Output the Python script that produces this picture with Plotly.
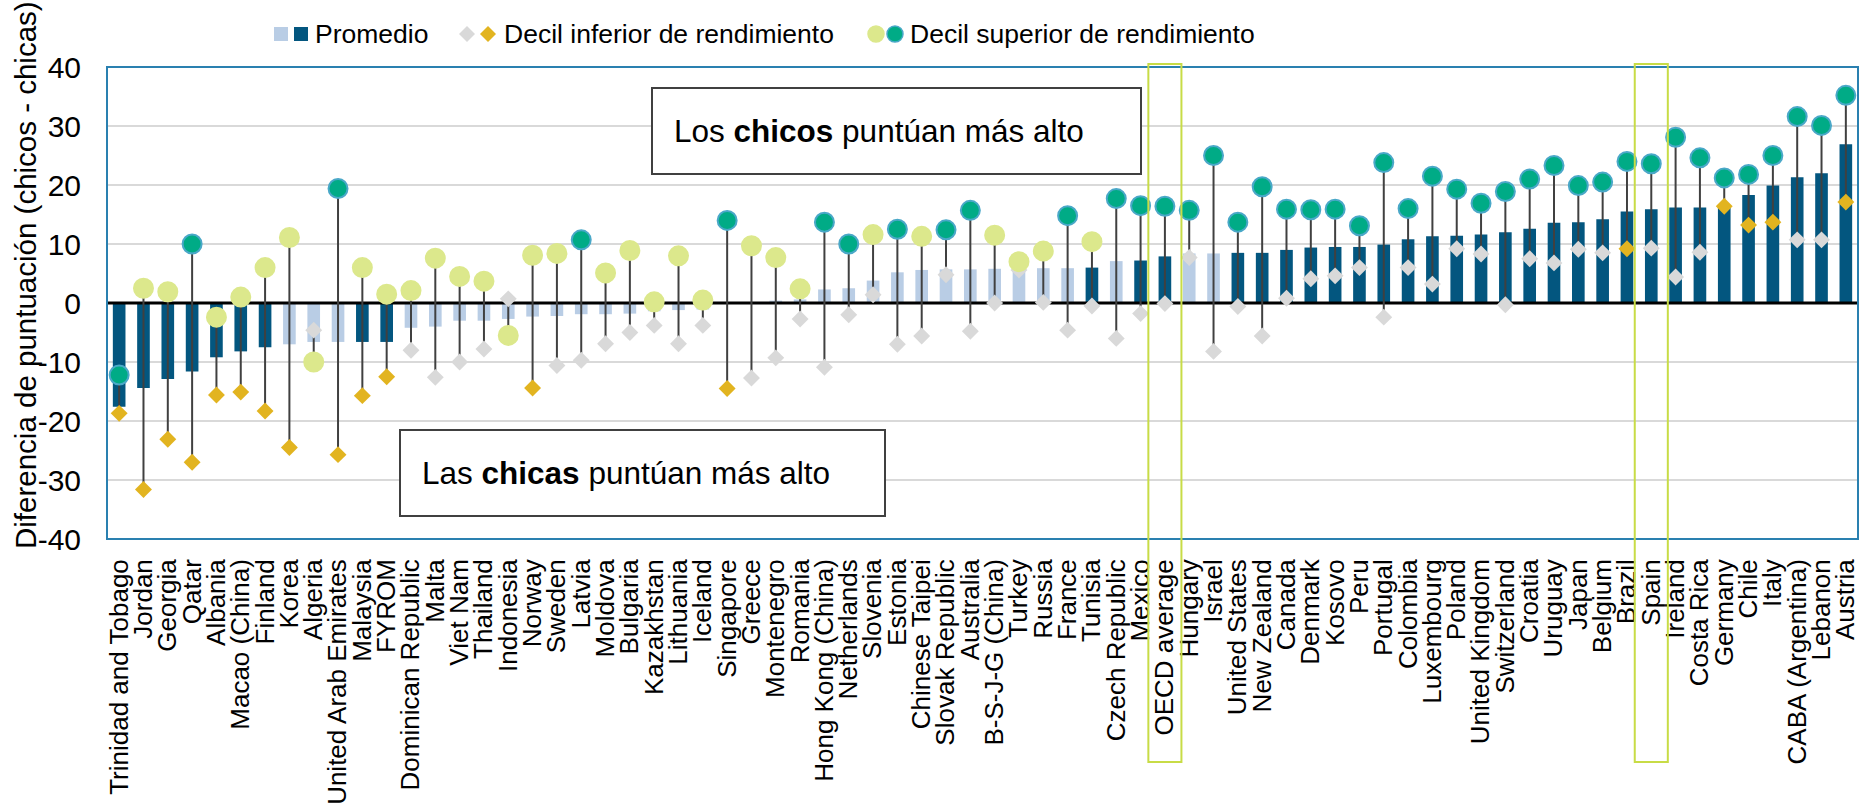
import plotly.graph_objects as go

countries = [
    "Trinidad and Tobago", "Jordan", "Georgia", "Qatar", "Albania", "Macao (China)", "Finland", "Korea",
    "Algeria", "United Arab Emirates", "Malaysia", "FYROM", "Dominican Republic", "Malta", "Viet Nam",
    "Thailand", "Indonesia", "Norway", "Sweden", "Latvia", "Moldova", "Bulgaria", "Kazakhstan", "Lithuania",
    "Iceland", "Singapore", "Greece", "Montenegro", "Romania", "Hong Kong (China)", "Netherlands", "Slovenia",
    "Estonia", "Chinese Taipei", "Slovak Republic", "Australia", "B-S-J-G (China)", "Turkey", "Russia",
    "France", "Tunisia", "Czech Republic", "Mexico", "OECD average", "Hungary", "Israel", "United States",
    "New Zealand", "Canada", "Denmark", "Kosovo", "Peru", "Portugal", "Colombia", "Luxembourg", "Poland",
    "United Kingdom", "Switzerland", "Croatia", "Uruguay", "Japan", "Belgium", "Brazil", "Spain", "Ireland",
    "Costa Rica", "Germany", "Chile", "Italy", "CABA (Argentina)", "Lebanon", "Austria",
]

# Mean difference (boys - girls)
mean_diff = [
    -17.6, -14.4, -12.9, -11.6, -9.2, -8.2, -7.5, -7.0, -6.6, -6.6, -6.6, -6.6, -4.2, -4.0, -3.0,
    -3.0, -2.7, -2.3, -2.2, -1.9, -1.9, -1.8, -1.4, -1.2, -1.1, -0.1, 0.0, 0.4, 0.6, 2.3, 2.5, 3.8,
    5.2, 5.6, 5.7, 5.7, 5.8, 5.8, 5.9, 5.9, 6.0, 7.1, 7.2, 7.9, 8.4, 8.4, 8.5, 8.5, 9.0, 9.4, 9.5,
    9.5, 9.9, 10.8, 11.3, 11.4, 11.6, 12.0, 12.6, 13.6, 13.7, 14.2, 15.5, 15.9, 16.2, 16.2, 16.6,
    18.3, 19.9, 21.3, 22.0, 26.9,
]
mean_sig = [
    1, 1, 1, 1, 1, 1, 1, 0, 0, 0, 1, 1, 0, 0, 0, 0, 0, 0, 0, 0, 0, 0, 0, 0, 0, 0, 0, 0, 0, 0, 0, 0,
    0, 0, 0, 0, 0, 0, 0, 0, 1, 0, 1, 1, 0, 0, 1, 1, 1, 1, 1, 1, 1, 1, 1, 1, 1, 1, 1, 1, 1, 1, 1, 1,
    1, 1, 1, 1, 1, 1, 1, 1,
]

# Bottom decile difference
low_decile = [
    -18.7, -31.6, -23.1, -27.0, -15.6, -15.1, -18.3, -24.5, -4.6, -25.7, -15.7, -12.5, -8.0, -12.6,
    -10.0, -7.8, 0.7, -14.4, -10.6, -9.7, -6.9, -5.0, -3.8, -6.9, -3.8, -14.5, -12.7, -9.3, -2.7,
    -10.9, -2.0, 1.4, -7.0, -5.6, 4.8, -4.8, 0.0, 5.6, 0.1, -4.6, -0.5, -6.0, -1.8, -0.1, 7.7, -8.2,
    -0.6, -5.6, 0.8, 4.1, 4.6, 6.0, -2.4, 6.0, 3.2, 9.2, 8.3, -0.3, 7.5, 6.8, 9.1, 8.5, 9.2, 9.3,
    4.4, 8.6, 16.4, 13.2, 13.7, 10.7, 10.7, 17.1,
]
low_sig = [
    1, 1, 1, 1, 1, 1, 1, 1, 0, 1, 1, 1, 0, 0, 0, 0, 0, 1, 0, 0, 0, 0, 0, 0, 0, 1, 0, 0, 0, 0, 0, 0,
    0, 0, 0, 0, 0, 0, 0, 0, 0, 0, 0, 0, 0, 0, 0, 0, 0, 0, 0, 0, 0, 0, 0, 0, 0, 0, 0, 0, 0, 0, 1, 0,
    0, 0, 1, 1, 1, 0, 0, 1,
]

# Top decile difference
high_decile = [
    -12.2, 2.5, 1.9, 10.0, -2.4, 1.0, 6.0, 11.1, -10.0, 19.4, 6.0, 1.5, 2.1, 7.6, 4.5, 3.7, -5.5,
    8.1, 8.4, 10.7, 5.1, 8.9, 0.2, 8.0, 0.5, 14.0, 9.7, 7.7, 2.4, 13.7, 10.0, 11.6, 12.5, 11.3, 12.4,
    15.7, 11.5, 7.0, 8.8, 14.8, 10.4, 17.7, 16.5, 16.4, 15.7, 25.0, 13.7, 19.7, 15.9, 15.8, 15.9,
    13.1, 23.8, 16.0, 21.5, 19.3, 16.9, 18.9, 21.0, 23.3, 19.9, 20.5, 24.0, 23.6, 28.1, 24.6, 21.2,
    21.8, 25.0, 31.6, 30.1, 35.2,
]
high_sig = [
    1, 0, 0, 1, 0, 0, 0, 0, 0, 1, 0, 0, 0, 0, 0, 0, 0, 0, 0, 1, 0, 0, 0, 0, 0, 1, 0, 0, 0, 1, 1, 0,
    1, 0, 1, 1, 0, 0, 0, 1, 0, 1, 1, 1, 1, 1, 1, 1, 1, 1, 1, 1, 1, 1, 1, 1, 1, 1, 1, 1, 1, 1, 1, 1,
    1, 1, 1, 1, 1, 1, 1, 1,
]

highlighted = ["OECD average", "Spain"]

y_tick_vals = [-40, -30, -20, -10, 0, 10, 20, 30, 40]
y_tick_text = ["-40", "-30", "-20", "-10", "0", "10", "20", "30", "40"]

legend_labels = ["Promedio", "Decil inferior de rendimiento", "Decil superior de rendimiento"]
note_boys = "Los <b>chicos</b> puntúan más alto"
note_girls = "Las <b>chicas</b> puntúan más alto"
y_title = "Diferencia de puntuación (chicos - chicas)"

# ---- styling ----
FONT = "Liberation Sans, Arial, sans-serif"
BAR_DARK, BAR_LIGHT = "#03567f", "#b9cde5"
DIA_GOLD, DIA_GREY = "#e2b420", "#d9d9d9"
CIR_DARK, CIR_LIGHT = "#00ab86", "#dce88c"
CIR_EDGE = "#4aa8c8"
STEM = "#404040"
BORDER = "#2a80b0"
HILITE = "#c8dc46"

W, H = 1862, 809
ML, MR, MT, MB = 107, 4, 67, 270
PW, PH = W - ML - MR, H - MT - MB


def px(xp):
    return (xp - ML) / PW


def py(yp):
    return (H - MB - yp) / PH


x_idx = list(range(len(countries)))

fig = go.Figure()

fig.add_trace(go.Bar(
    x=x_idx, y=mean_diff, width=0.52,
    marker=dict(color=[BAR_DARK if s else BAR_LIGHT for s in mean_sig], line=dict(width=0)),
    hoverinfo="skip", showlegend=False,
))

# zero reference line
fig.add_trace(go.Scatter(
    x=[x_idx[0] - 0.5, x_idx[-1] + 0.5], y=[0, 0], mode="lines",
    line=dict(color="black", width=3), hoverinfo="skip", showlegend=False,
))

stem_x, stem_y = [], []
for i, lo, hi in zip(x_idx, low_decile, high_decile):
    stem_x += [i, i, None]
    stem_y += [lo, hi, None]
fig.add_trace(go.Scatter(
    x=stem_x, y=stem_y, mode="lines", line=dict(color=STEM, width=2),
    hoverinfo="skip", showlegend=False,
))

fig.add_trace(go.Scatter(
    x=x_idx, y=low_decile, mode="markers",
    marker=dict(symbol="diamond", size=13,
                color=[DIA_GOLD if s else DIA_GREY for s in low_sig], line=dict(width=0)),
    hoverinfo="skip", showlegend=False,
))

fig.add_trace(go.Scatter(
    x=x_idx, y=high_decile, mode="markers",
    marker=dict(symbol="circle", size=19,
                color=[CIR_DARK if s else CIR_LIGHT for s in high_sig],
                line=dict(width=2, color=[CIR_EDGE if s else CIR_LIGHT for s in high_sig])),
    hoverinfo="skip", showlegend=False,
))

shapes = []
# plot border
shapes.append(dict(type="rect", xref="paper", yref="paper", x0=0, x1=1, y0=0, y1=1,
                   line=dict(color=BORDER, width=2), layer="above"))
# highlight boxes
for name in highlighted:
    i = countries.index(name)
    shapes.append(dict(type="rect", xref="x", yref="paper", x0=i - 0.68, x1=i + 0.68,
                       y0=py(762), y1=py(64), line=dict(color=HILITE, width=2), layer="above"))
# note boxes
shapes.append(dict(type="rect", xref="paper", yref="paper", x0=px(652), x1=px(1141),
                   y0=py(174), y1=py(88), fillcolor="white", line=dict(color="#404040", width=2),
                   layer="above"))
shapes.append(dict(type="rect", xref="paper", yref="paper", x0=px(400), x1=px(885),
                   y0=py(516), y1=py(430), fillcolor="white", line=dict(color="#404040", width=2),
                   layer="above"))

# custom legend symbols
ly = 34
for x0, col in [(274, BAR_LIGHT), (294, BAR_DARK)]:
    shapes.append(dict(type="rect", xref="paper", yref="paper", x0=px(x0), x1=px(x0 + 14),
                       y0=py(ly + 7), y1=py(ly - 7), fillcolor=col, line=dict(width=0)))
for cx, col in [(467, DIA_GREY), (488, DIA_GOLD)]:
    path = "M {a},{b} L {c},{d} L {a},{e} L {f},{d} Z".format(
        a=px(cx), b=py(ly - 8), c=px(cx + 8), d=py(ly), e=py(ly + 8), f=px(cx - 8))
    shapes.append(dict(type="path", xref="paper", yref="paper", path=path,
                       fillcolor=col, line=dict(width=0)))
for cx, col, edge in [(876, CIR_LIGHT, CIR_LIGHT), (895, CIR_DARK, CIR_EDGE)]:
    shapes.append(dict(type="circle", xref="paper", yref="paper", x0=px(cx - 8), x1=px(cx + 8),
                       y0=py(ly + 8), y1=py(ly - 8), fillcolor=col, line=dict(color=edge, width=1.5)))

annotations = []
for xl, txt in zip([313, 502, 908], legend_labels):
    annotations.append(dict(xref="paper", yref="paper", x=px(xl), y=py(ly), xanchor="left",
                            yanchor="middle", text=txt, showarrow=False,
                            font=dict(family=FONT, size=26.5, color="black")))
annotations.append(dict(xref="paper", yref="paper", x=px(672), y=py(131), xanchor="left",
                        yanchor="middle", text=note_boys, showarrow=False,
                        font=dict(family=FONT, size=31.5, color="black")))
annotations.append(dict(xref="paper", yref="paper", x=px(420), y=py(473), xanchor="left",
                        yanchor="middle", text=note_girls, showarrow=False,
                        font=dict(family=FONT, size=31.5, color="black")))
annotations.append(dict(xref="paper", yref="paper", x=px(25), y=py(275), xanchor="center",
                        yanchor="middle", text=y_title, textangle=-90, showarrow=False,
                        font=dict(family=FONT, size=29.5, color="black")))

fig.update_layout(
    width=W, height=H, autosize=False,
    margin=dict(l=ML, r=MR, t=MT, b=MB, pad=0),
    paper_bgcolor="white", plot_bgcolor="white",
    showlegend=False, hovermode=False,
    font=dict(family=FONT, color="black"),
    shapes=shapes, annotations=annotations,
    xaxis=dict(
        range=[x_idx[0] - 0.5, x_idx[-1] + 0.5], tickmode="array", tickvals=x_idx, ticktext=countries,
        tickangle=-90, tickfont=dict(family=FONT, size=26, color="black"), showgrid=False,
        zeroline=False, showline=False, ticks="", ticklabelstandoff=14, fixedrange=True,
        automargin=False,
    ),
    yaxis=dict(
        range=[-40, 40], tickmode="array", tickvals=y_tick_vals, ticktext=y_tick_text,
        tickfont=dict(family=FONT, size=30, color="black"), showgrid=True, gridcolor="#d9d9d9",
        gridwidth=2, zeroline=False, showline=False, ticks="", ticklabelstandoff=25, fixedrange=True,
        automargin=False,
    ),
)

fig.write_html(
    "out.html",
    config={"displayModeBar": False},
    post_script="document.body.style.margin='0px';document.body.style.overflow='hidden';",
)
